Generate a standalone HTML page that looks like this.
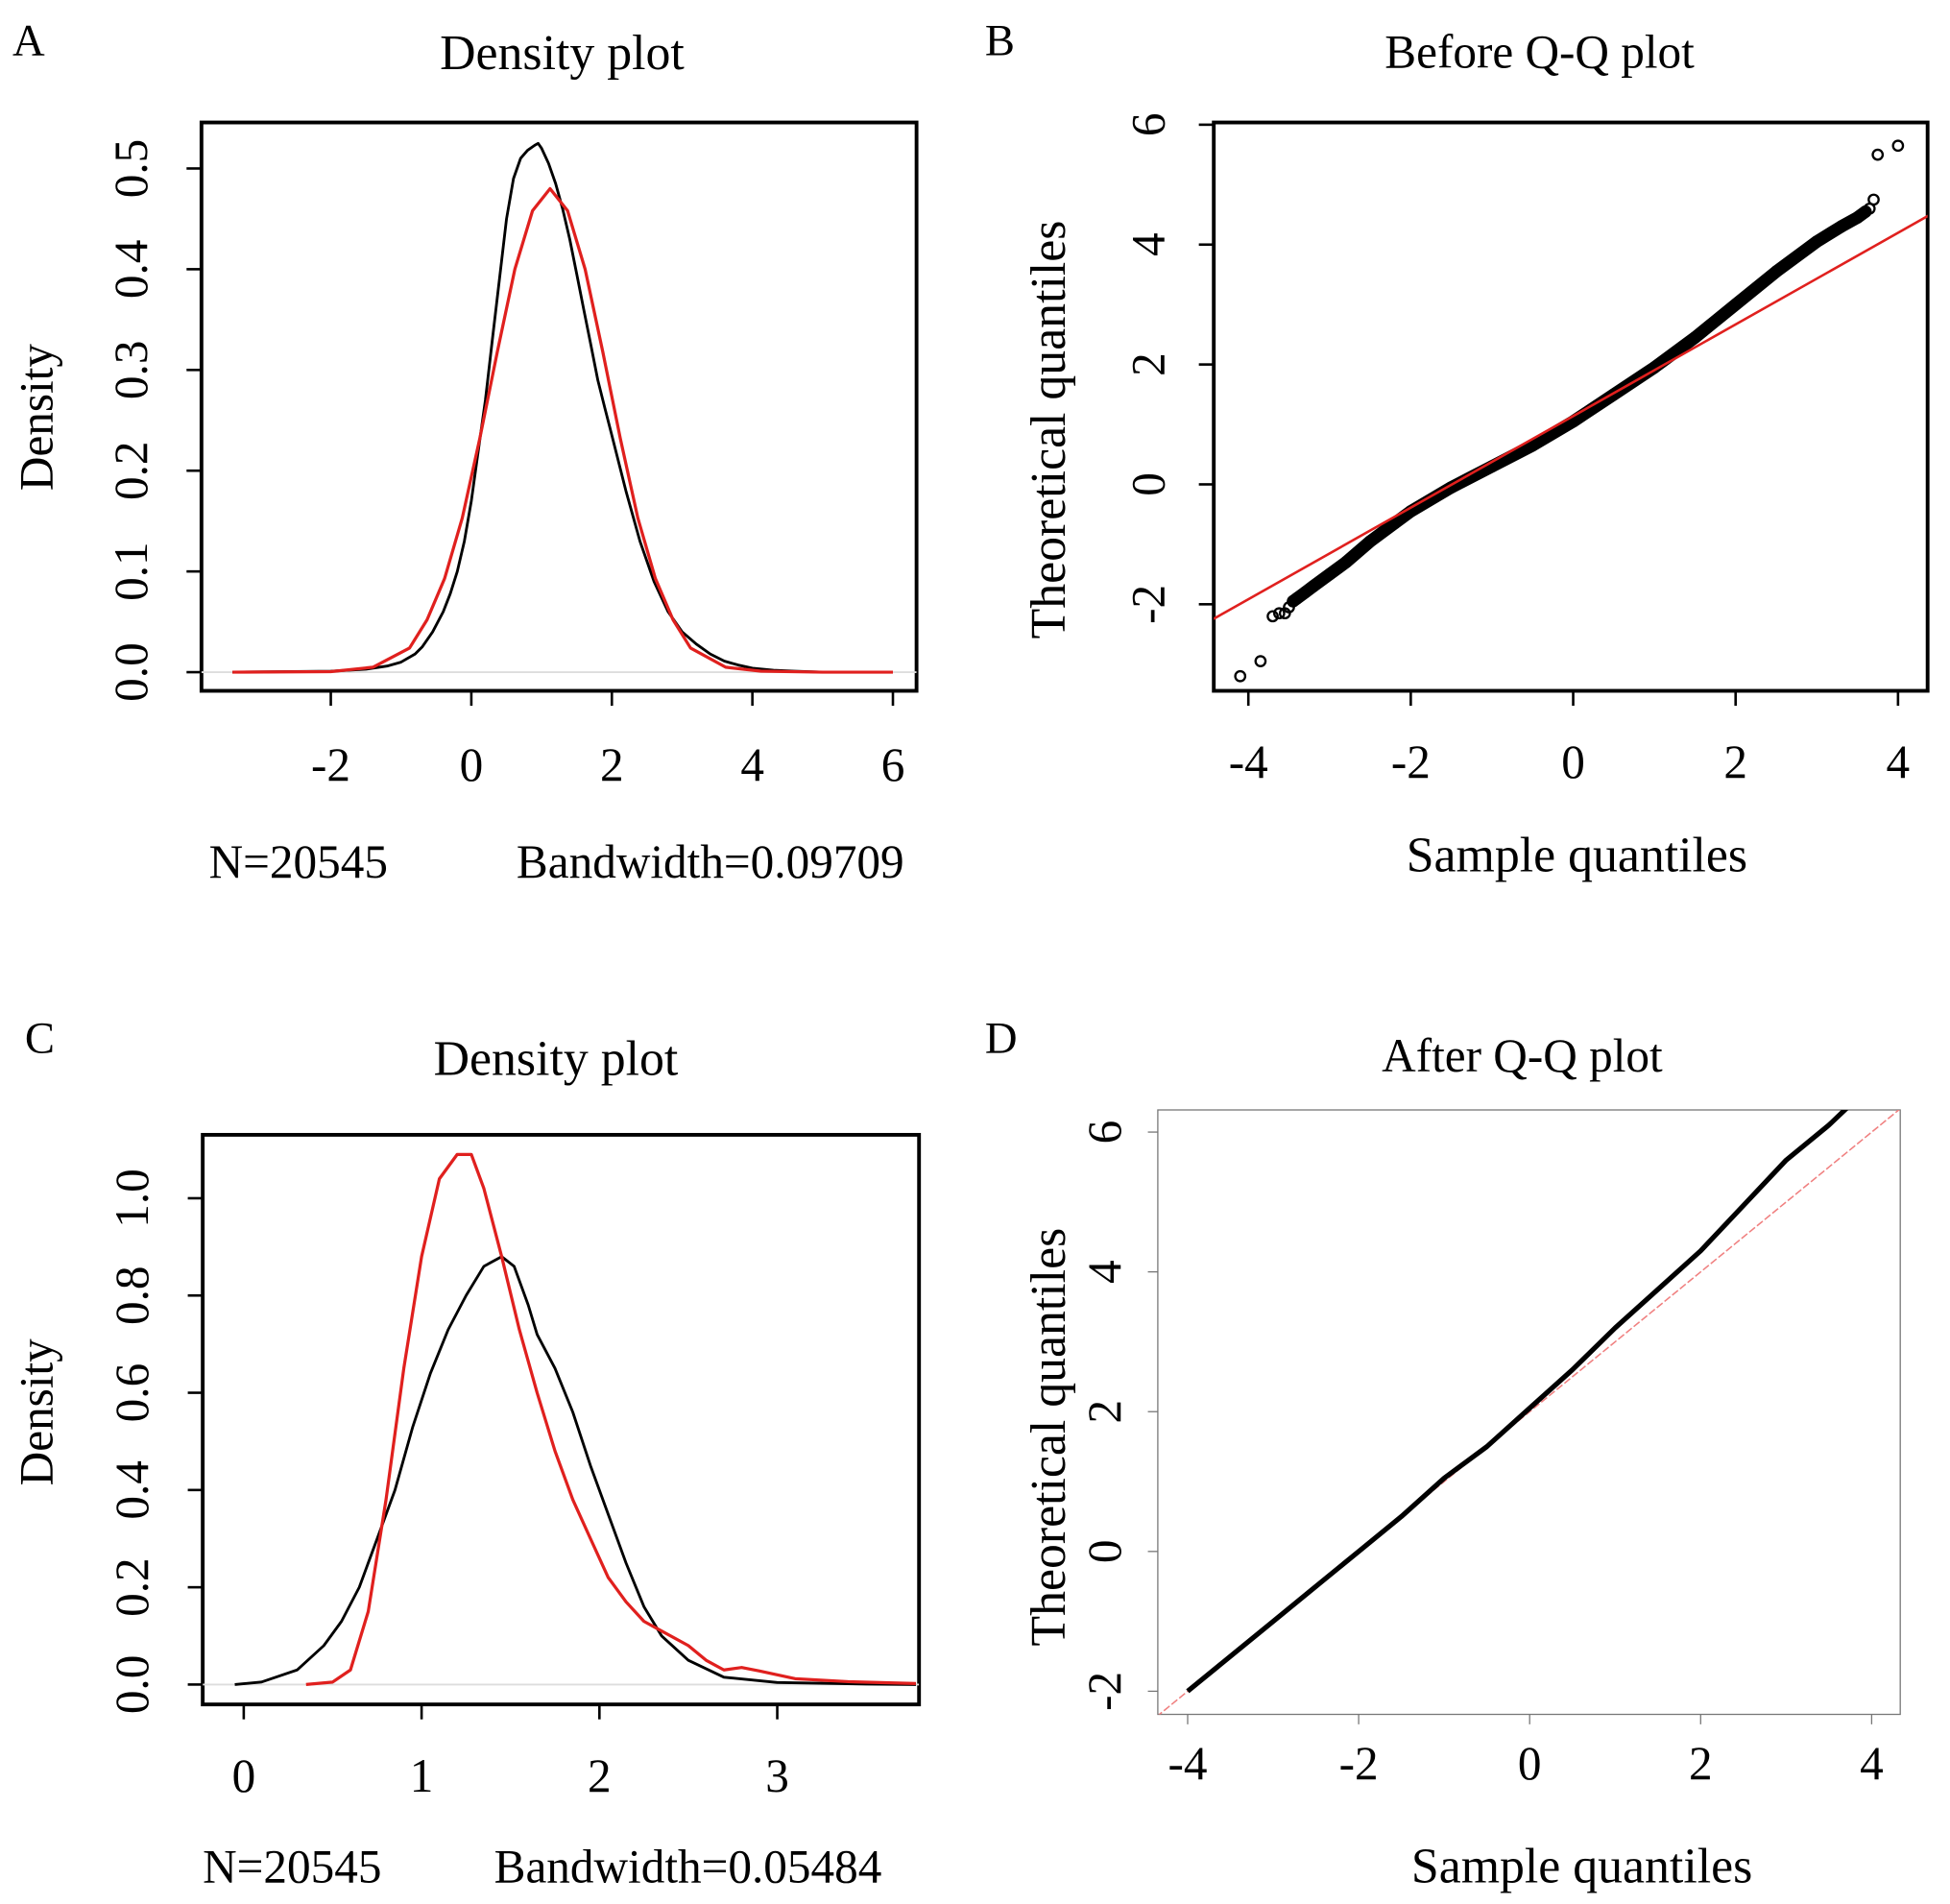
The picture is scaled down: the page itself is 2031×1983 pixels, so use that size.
<!DOCTYPE html>
<html><head><meta charset="utf-8"><style>
html,body{margin:0;padding:0;background:#fff;}
svg{display:block;font-family:"Liberation Serif",serif;}
</style></head><body>
<svg id="fig" width="2031" height="1983" viewBox="0 0 1568 1530" xmlns="http://www.w3.org/2000/svg">
<g>
<text x="10" y="44" font-size="36">A</text>
<text x="452" y="55" font-size="40" text-anchor="middle">Density plot</text>
<text transform="translate(42,335) rotate(-90)" font-size="38" text-anchor="middle">Density</text>
<text x="168" y="705" font-size="38">N=20545</text>
<text x="727" y="705" font-size="38" text-anchor="end">Bandwidth=0.09709</text>
<g id="pa"></g>
</g>
<g>
<text x="792" y="44" font-size="36">B</text>
<text x="1238" y="54" font-size="38" text-anchor="middle">Before Q-Q plot</text>
<text transform="translate(856,345) rotate(-90)" font-size="40" text-anchor="middle">Theoretical quantiles</text>
<text x="1268" y="700" font-size="40" text-anchor="middle">Sample quantiles</text>
<g id="pb"></g>
</g>
<g>
<text x="20" y="846" font-size="36">C</text>
<text x="447" y="864" font-size="40" text-anchor="middle">Density plot</text>
<text transform="translate(42,1135) rotate(-90)" font-size="38" text-anchor="middle">Density</text>
<text x="163" y="1513" font-size="38">N=20545</text>
<text x="709" y="1513" font-size="38" text-anchor="end">Bandwidth=0.05484</text>
<g id="pc"></g>
</g>
<g>
<text x="792" y="846" font-size="36">D</text>
<text x="1224" y="861" font-size="38" text-anchor="middle">After Q-Q plot</text>
<text transform="translate(856,1155) rotate(-90)" font-size="40" text-anchor="middle">Theoretical quantiles</text>
<text x="1272" y="1513" font-size="40" text-anchor="middle">Sample quantiles</text>
<g id="pd"></g>
</g>
</svg>
<script>
// Panel A data
const aTicksX = [-2, 0, 2, 4, 6];
const aTicksY = [0.0, 0.1, 0.2, 0.3, 0.4, 0.5];
const aBlackX = [-3.4,-2,-1.5,-1.2,-1,-0.8,-0.7,-0.55,-0.4,-0.3,-0.2,-0.1,0,0.1,0.2,0.3,0.4,0.5,0.6,0.7,0.8,0.9,0.95,1.0,1.1,1.2,1.3,1.4,1.5,1.6,1.7,1.8,1.9,2.0,2.2,2.4,2.6,2.8,3.0,3.2,3.4,3.6,3.8,4,4.3,4.6,5,6];
const aBlackY = [0,0.001,0.003,0.006,0.01,0.018,0.025,0.04,0.06,0.078,0.1,0.13,0.17,0.22,0.27,0.33,0.39,0.45,0.49,0.51,0.518,0.523,0.525,0.52,0.505,0.485,0.46,0.43,0.395,0.36,0.325,0.29,0.262,0.235,0.18,0.13,0.09,0.06,0.04,0.028,0.018,0.011,0.007,0.004,0.002,0.001,0,0];
const aRedX = [-3.4,-2,-1.4,-0.88,-0.63,-0.38,-0.13,0.12,0.37,0.62,0.87,1.12,1.37,1.62,1.87,2.12,2.37,2.62,2.87,3.12,3.62,4.12,5,6];
const aRedY = [0,0.0005,0.005,0.024,0.052,0.093,0.153,0.232,0.318,0.40,0.458,0.48,0.458,0.40,0.318,0.232,0.153,0.093,0.052,0.024,0.005,0.001,0,0];
// Panel B data
const bTicksX = [-4, -2, 0, 2, 4];
const bTicksY = [-2, 0, 2, 4, 6];
const bPointsX = [-4.1,-3.85,-3.7,-3.62,-3.55,-3.5,-3.45,-3.4,-3.3,-3.2,-3.0,-2.8,-2.5,-2.2,-2.0,-1.5,-1.0,-0.5,0,0.5,1.0,1.5,2.0,2.5,3.0,3.3,3.5,3.6,3.65,3.7,3.75,4.0];
const bPointsY = [-3.2,-2.95,-2.2,-2.15,-2.15,-2.05,-1.95,-1.9,-1.8,-1.7,-1.5,-1.3,-0.95,-0.65,-0.45,-0.05,0.3,0.65,1.05,1.5,1.95,2.45,3.0,3.55,4.05,4.3,4.45,4.55,4.6,4.75,5.5,5.65];
const bLineIntercept = 1.14, bLineSlope = 0.764;
// Panel C data
const cTicksX = [0, 1, 2, 3];
const cTicksY = [0.0, 0.2, 0.4, 0.6, 0.8, 1.0];
const cBlackX = [-0.05,0.1,0.3,0.45,0.55,0.65,0.75,0.85,0.95,1.05,1.15,1.25,1.35,1.45,1.52,1.6,1.65,1.75,1.85,1.95,2.05,2.15,2.25,2.35,2.5,2.7,3.0,3.5,3.78];
const cBlackY = [0,0.005,0.03,0.08,0.13,0.2,0.3,0.4,0.53,0.64,0.73,0.8,0.86,0.88,0.86,0.78,0.72,0.65,0.56,0.45,0.35,0.25,0.16,0.1,0.05,0.015,0.004,0.001,0];
const cRedX = [0.35,0.5,0.6,0.7,0.8,0.9,1.0,1.1,1.2,1.28,1.35,1.45,1.55,1.65,1.75,1.85,1.95,2.05,2.15,2.25,2.35,2.5,2.6,2.7,2.8,2.9,3.1,3.4,3.78];
const cRedY = [0,0.005,0.03,0.15,0.38,0.65,0.88,1.04,1.09,1.09,1.02,0.88,0.73,0.6,0.48,0.38,0.3,0.22,0.17,0.13,0.11,0.08,0.05,0.03,0.035,0.028,0.012,0.006,0.002];
// Panel D data
const dTicksX = [-4, -2, 0, 2, 4];
const dTicksY = [-2, 0, 2, 4, 6];
const dBlackX = [-4,-3.5,-3,-2.5,-2,-1.5,-1,-0.5,0,0.5,1,1.5,2,2.5,3,3.5,3.8];
const dBlackY = [-2,-1.5,-1,-0.5,0,0.5,1.05,1.5,2.05,2.6,3.2,3.75,4.3,4.95,5.6,6.1,6.45];
const dLineIntercept = 2.0, dLineSlope = 1.0;

const NS = "http://www.w3.org/2000/svg";
function mk(parent, tag, attrs){ const e=document.createElementNS(NS,tag); for(const k in attrs) e.setAttribute(k,attrs[k]); parent.appendChild(e); return e; }
function fmt(v, d){ return v<0 ? "-"+Math.abs(v).toFixed(d) : v.toFixed(d); }

function panel(gid, o){
  const g=document.getElementById(gid);
  const sx=v=>o.x0+(v-o.xa)*o.kx, sy=v=>o.y0-(v-o.ya)*o.ky;
  const box=mk(g,'rect',{x:o.L,y:o.T,width:o.R-o.L,height:o.B-o.T,fill:'none',stroke:o.boxCol,'stroke-width':o.boxW});
  
  
  o.tx.forEach(t=>{
    const X=sx(t);
    const l=mk(g,'line',{x1:X,x2:X,y1:o.B,y2:o.B+o.tick,stroke:o.axCol,'stroke-width':o.axW});
    
    
    const tt=mk(g,'text',{x:X,y:o.B+o.xlabOff,'font-size':38,'text-anchor':'middle'});
    tt.textContent=fmt(t,o.xd);
    
    
  });
  o.ty.forEach(t=>{
    const Y=sy(t);
    const l=mk(g,'line',{x1:o.L-o.tick,x2:o.L,y1:Y,y2:Y,stroke:o.axCol,'stroke-width':o.axW});
    
    
    const tt=mk(g,'text',{transform:`translate(${o.L-o.ylabOff},${Y}) rotate(-90)`,'font-size':38,'text-anchor':'middle'});
    tt.textContent=fmt(t,o.yd);
    
    
  });
  const cid=gid+'clip';
  const cp=mk(g,'clipPath',{id:cid}); mk(cp,'rect',{x:o.L,y:o.T,width:o.R-o.L,height:o.B-o.T});
  const inner=mk(g,'g',{'clip-path':`url(#${cid})`});
  return {g:inner,sx,sy};
}
function poly(p, xs, ys, attrs, name){
  const d=xs.map((x,i)=>(i?'L':'M')+p.sx(x).toFixed(1)+' '+p.sy(ys[i]).toFixed(1)).join(' ');
  const e=mk(p.g,'path',Object.assign({d,fill:'none','stroke-linejoin':'round'},attrs));
  
  
  return e;
}

// A
const pa=panel('pa',{L:162,R:737,T:98,B:555,x0:379,xa:0,kx:56.5,y0:540,ya:0,ky:810,tx:aTicksX,ty:aTicksY,xd:0,yd:1,tick:12,xlabOff:72,ylabOff:44,boxCol:'#000',boxW:3,axCol:'#000',axW:2});
{const z=mk(pa.g,'line',{x1:162,x2:737,y1:pa.sy(0),y2:pa.sy(0),stroke:'#ddd','stroke-width':1.5});

}
poly(pa,aBlackX,aBlackY,{stroke:'#000','stroke-width':2.2},'density-black-line');
poly(pa,aRedX,aRedY,{stroke:'#e0201e','stroke-width':2.5},'density-red-line');

// B
const pb=panel('pb',{L:976,R:1550,T:98,B:555,x0:1265,xa:0,kx:65.3,y0:389,ya:0,ky:48.2,tx:bTicksX,ty:bTicksY,xd:0,yd:0,tick:12,xlabOff:70,ylabOff:40,boxCol:'#000',boxW:3,axCol:'#000',axW:2});
poly(pb,bPointsX.slice(6,28),bPointsY.slice(6,28),{stroke:'#000','stroke-width':10,'stroke-linecap':'round'},'qq-points-band');
bPointsX.forEach((x,i)=>{
  const c=mk(pb.g,'circle',{cx:pb.sx(x),cy:pb.sy(bPointsY[i]),r:4,fill:'none',stroke:'#000','stroke-width':1.8});
  
  
});
poly(pb,[-5,5],[bLineIntercept-5*bLineSlope,bLineIntercept+5*bLineSlope],{stroke:'#e0201e','stroke-width':2},'qq-reference-line');

// C
const pc=panel('pc',{L:163,R:739,T:912,B:1370,x0:196,xa:0,kx:143,y0:1354,ya:0,ky:391,tx:cTicksX,ty:cTicksY,xd:0,yd:1,tick:12,xlabOff:70,ylabOff:44,boxCol:'#000',boxW:3,axCol:'#000',axW:2});
{const z=mk(pc.g,'line',{x1:163,x2:739,y1:pc.sy(0),y2:pc.sy(0),stroke:'#ddd','stroke-width':1.5});

}
poly(pc,cBlackX,cBlackY,{stroke:'#000','stroke-width':2.2},'density-black-line');
poly(pc,cRedX,cRedY,{stroke:'#e0201e','stroke-width':2.5},'density-red-line');

// D
const pd=panel('pd',{L:931,R:1528,T:892,B:1378,x0:1230,xa:0,kx:68.75,y0:1247,ya:0,ky:56.2,tx:dTicksX,ty:dTicksY,xd:0,yd:0,tick:8,xlabOff:52,ylabOff:30,boxCol:'#777',boxW:1,axCol:'#777',axW:1});
poly(pd,[-5,5],[dLineIntercept-5*dLineSlope,dLineIntercept+5*dLineSlope],{stroke:'#f08080','stroke-width':1.2,'stroke-dasharray':'6 2'},'qq-reference-line');
poly(pd,dBlackX,dBlackY,{stroke:'#000','stroke-width':4},'qq-points-line');
</script>
</body></html>
